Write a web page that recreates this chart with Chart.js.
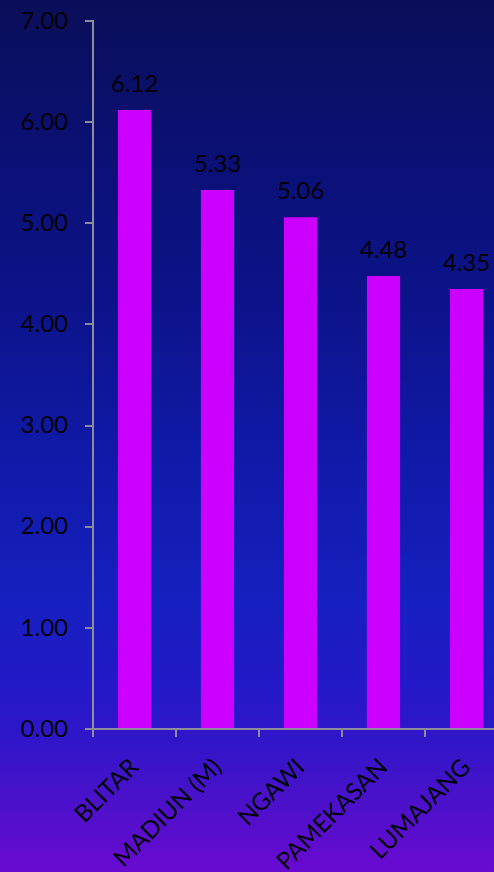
<!DOCTYPE html>
<html>
<head>
<meta charset="utf-8">
<script src="https://cdn.jsdelivr.net/npm/chart.js@4/dist/chart.umd.min.js"></script>
<style>
  html, body {
    margin: 0;
    padding: 0;
    width: 494px;
    height: 872px;
    overflow: hidden;
    background: linear-gradient(to bottom,
      #0a0e58 0px,
      #0b1074 150px,
      #0c1389 300px,
      #1019a6 450px,
      #1620bf 600px,
      #2219c6 680px,
      #3016c8 740px,
      #4a11ca 800px,
      #6a0ad0 872px);
  }
  #wrap { position: absolute; left: 0; top: 0; }
  canvas { display: block; }
</style>
</head>
<body>
<div id="wrap"><canvas id="chart" width="508" height="872"></canvas></div>
<script>
const categories = ['BLITAR', 'MADIUN (M)', 'NGAWI', 'PAMEKASAN', 'LUMAJANG'];
const values = [6.12, 5.33, 5.06, 4.48, 4.35];
const yTicks = [0, 1, 2, 3, 4, 5, 6, 7];

const FONT = 'Lato, "Open Sans", sans-serif';

// Writes each bar's value just above it
const valueLabels = {
  id: 'valueLabels',
  afterDatasetsDraw(chart) {
    const { ctx } = chart;
    const meta = chart.getDatasetMeta(0);
    const data = chart.data.datasets[0].data;
    ctx.save();
    ctx.font = '24px ' + FONT;
    ctx.fillStyle = '#000';
    ctx.textAlign = 'center';
    ctx.textBaseline = 'alphabetic';
    meta.data.forEach((bar, i) => {
      ctx.fillText(data[i].toFixed(2), bar.x, bar.y - 18);
    });
    ctx.restore();
  }
};

new Chart(document.getElementById('chart'), {
  type: 'bar',
  data: {
    labels: categories,
    datasets: [{
      data: values,
      backgroundColor: '#cc00ff',
      borderWidth: 0,
      categoryPercentage: 1,
      barPercentage: 0.4
    }]
  },
  options: {
    responsive: false,
    animation: false,
    layout: { padding: { top: 21, right: 0, left: 0, bottom: 0 } },
    plugins: {
      legend: { display: false },
      tooltip: { enabled: false }
    },
    scales: {
      y: {
        min: 0,
        max: 7,
        afterBuildTicks(axis) {
          axis.ticks = yTicks.map(v => ({ value: v }));
        },
        afterFit(axis) {
          axis.width = 93;
          axis.paddingTop = 0;
          axis.paddingBottom = 0;
        },
        border: { color: '#8c8c9c', width: 2 },
        grid: {
          drawOnChartArea: false,
          drawTicks: true,
          tickLength: 8,
          color: '#8c8c9c',
          lineWidth: 2
        },
        ticks: {
          padding: 17,
          color: '#000',
          font: { family: FONT, size: 24 },
          callback: v => Number(v).toFixed(2)
        }
      },
      x: {
        afterFit(axis) {
          axis.height = 143;
          axis.paddingLeft = 0;
          axis.paddingRight = 0;
        },
        border: { color: '#8c8c9c', width: 2 },
        grid: {
          drawOnChartArea: false,
          drawTicks: true,
          tickLength: 8,
          color: '#8c8c9c',
          lineWidth: 2,
          offset: true
        },
        ticks: {
          color: '#000',
          font: { family: FONT, size: 24 },
          minRotation: 45,
          maxRotation: 45,
          autoSkip: false,
          padding: 16
        }
      }
    }
  },
  plugins: [valueLabels]
});
</script>
</body>
</html>
